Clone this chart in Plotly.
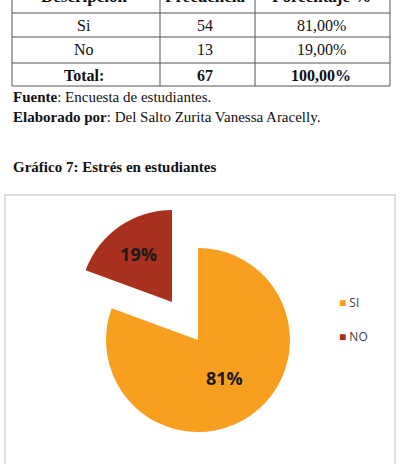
import plotly.graph_objects as go

W, H = 400, 464

# ---- data ----
table_header = ["Descripción", "Frecuencia", "Porcentaje %"]
table_desc = ["Si", "No", "Total:"]
table_freq = ["54", "13", "67"]
table_pct = ["81,00%", "19,00%", "100,00%"]

pie_labels = ["SI", "NO"]
pie_values = [54, 13]
pie_colors = ["#F99F1F", "#A8301F"]

fuente = "Encuesta de estudiantes."
elaborado = "Del Salto Zurita Vanessa Aracelly."
grafico_title = "Gráfico 7: Estrés en estudiantes"


def px(x):
    return x / W


def py(y):
    return 1 - y / H


TRANSP = "rgba(0,0,0,0)"

fig = go.Figure()

# Main (SI) slice, not pulled
fig.add_trace(go.Pie(
    labels=pie_labels, values=pie_values, sort=False, direction="clockwise", rotation=0,
    marker=dict(colors=[pie_colors[0], TRANSP], line=dict(width=0)),
    texttemplate=["%{percent:.0%}", ""], textposition="inside",
    insidetextorientation="horizontal",
    textfont=dict(family="Open Sans", size=18, color="#1a1a1a", weight="bold"),
    showlegend=False, hoverinfo="skip",
    domain=dict(x=[px(106), px(290)], y=[py(432), py(248)]),
))
# Exploded (NO) slice
fig.add_trace(go.Pie(
    labels=pie_labels, values=pie_values, sort=False, direction="clockwise", rotation=0,
    marker=dict(colors=[TRANSP, pie_colors[1]], line=dict(width=0)),
    texttemplate=["", "%{percent:.0%}"], textposition="inside",
    insidetextorientation="horizontal",
    textfont=dict(family="Open Sans", size=18, color="#1a1a1a", weight="bold"),
    showlegend=False, hoverinfo="skip",
    domain=dict(x=[px(80), px(264)], y=[py(394), py(210)]),
))

shapes = []
annotations = []

# chart box
shapes.append(dict(type="rect", xref="paper", yref="paper",
                   x0=px(5), x1=px(395), y0=py(480), y1=py(195),
                   line=dict(color="#d2d2d2", width=1.5), layer="below"))

# table lines
tcol = [12, 160, 255, 390]
trow = [-20, 13, 37, 63, 86]
for x in tcol:
    shapes.append(dict(type="line", xref="paper", yref="paper",
                       x0=px(x), x1=px(x), y0=py(trow[-1]), y1=py(trow[0]),
                       line=dict(color="#555555", width=1)))
for y in trow[1:]:
    shapes.append(dict(type="line", xref="paper", yref="paper",
                       x0=px(tcol[0]), x1=px(tcol[-1]), y0=py(y), y1=py(y),
                       line=dict(color="#555555", width=1)))

serif = "Liberation Serif"
col_cx = [84, 205, 321]


def ann(x, y, text, size, xanchor="center", family=serif, color="#111"):
    annotations.append(dict(xref="paper", yref="paper", x=px(x), y=py(y),
                            xanchor=xanchor, yanchor="middle", text=text, showarrow=False,
                            font=dict(family=family, size=size, color=color)))


# header (cut off at top)
for cx, t in zip(col_cx, table_header):
    ann(cx, -4, f"<b>{t}</b>", 17)
row_cy = [25, 50, 75]
for i, cy in enumerate(row_cy):
    b0, b1 = ("<b>", "</b>") if i == 2 else ("", "")
    for cx, col in zip(col_cx, [table_desc, table_freq, table_pct]):
        ann(cx, cy, f"{b0}{col[i]}{b1}", 16)

ann(11, 97, f"<b>Fuente</b>: {fuente}", 15, xanchor="left")
ann(11, 117, f"<b>Elaborado por</b>: {elaborado}", 15, xanchor="left")
ann(11, 167, f"<b>{grafico_title}</b>", 15, xanchor="left")

# legend
leg_y = [302, 336]
for lab, col, ly in zip(pie_labels, pie_colors, leg_y):
    ann(337, ly, f"<span style='color:{col}'>■</span> {lab}", 12,
        xanchor="left", family="Open Sans", color="#404040")

fig.update_layout(
    width=W, height=H, margin=dict(l=0, r=0, t=0, b=0),
    paper_bgcolor="white", plot_bgcolor="white",
    shapes=shapes, annotations=annotations,
)

fig.write_html("out.html")
